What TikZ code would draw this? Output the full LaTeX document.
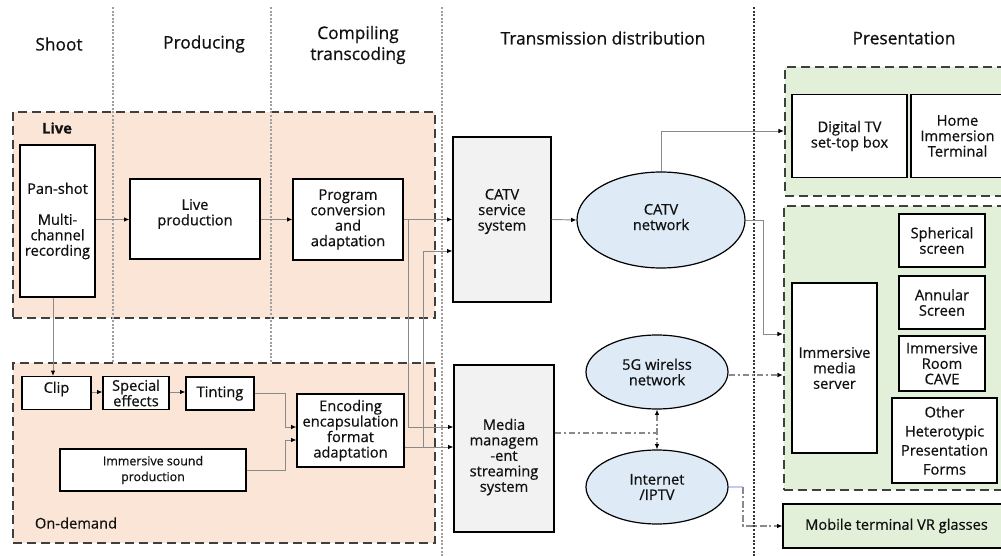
\documentclass[tikz,border=0pt]{standalone}
\usepackage{fontspec}
\setmainfont{Open Sans}[RawFeature={embolden=0.6}]
\usetikzlibrary{arrows.meta,shapes.geometric}
\definecolor{peach}{HTML}{FBE5D6}
\definecolor{lgreen}{HTML}{E2F0D9}
\definecolor{lblue}{HTML}{DEEBF7}
\definecolor{lgray}{HTML}{F2F2F2}
\definecolor{grpline}{HTML}{3F3F3F}
\definecolor{connc}{HTML}{8A8A8A}
\definecolor{txtc}{HTML}{111111}
\newcommand\boxfont{\fontsize{11}{11.6}\selectfont}
\newcommand\smallboxfont{\fontsize{9.3}{11.8}\selectfont}
\newcommand\headfont{\fontsize{13}{15.75}\selectfont}
\begin{document}
\begin{tikzpicture}[x=0.75pt,y=-0.75pt,
 wh/.style 2 args={minimum width=#1*0.75pt,minimum height=#2*0.75pt},
 box/.style={draw=black,line width=0.9pt,fill=white,inner sep=0pt,align=center,font=\boxfont,text=txtc},
 graybox/.style={box,fill=lgray},
 ell/.style={ellipse,draw=black,line width=0.9pt,fill=lblue,inner sep=0pt,align=center,font=\boxfont,text=txtc},
 grp/.style={draw=grpline,line width=1.8pt,dash pattern=on 7pt off 3.5pt,inner sep=0pt},
 head/.style={font=\headfont,align=center,inner sep=0pt,text=txtc},
 lbltxt/.style={font=\boxfont,align=center,inner sep=0pt,text=txtc},
 vdot/.style={draw=gray!75,line width=1pt,dash pattern=on 1.5pt off 1.2pt},
 conn/.style={draw=connc,line width=0.7pt,-{Latex[length=4pt,width=3.5pt,color=black]}},
 dd/.style={draw=connc,line width=1pt,dash pattern=on 5pt off 2pt on 1.5pt off 2pt},
 dda/.style={dd,-{Latex[length=4pt,width=3.5pt,color=black]}},
 ddb/.style={dd,{Latex[length=4pt,width=3.5pt,color=black]}-{Latex[length=4pt,width=3.5pt,color=black]}},
]
\useasboundingbox (0,0) rectangle (1001,556);
\clip (0,0) rectangle (1001,556);
\fill[white] (0,0) rectangle (1001,556);

% groups
\node[grp,fill=peach,wh={422}{206}] (glive) at (224,215) {};
\node[grp,fill=lgreen,wh={228}{129}] (pg1) at (899,131.5) {};
\node[grp,fill=lgreen,wh={228}{284}] (pg2) at (898,348) {};

% stage separators
\draw[vdot] (113,7) -- (113,363);
\draw[vdot] (271,7) -- (271,363);
\draw[vdot] (442,7) -- (442,556);
\draw[vdot,draw=gray!40!black] (754,7) -- (754,556);

\node[grp,fill=peach,wh={422}{180}] (gdem) at (224,453) {};

% headers
\node[head] (hshoot) at (59,44) {Shoot};
\node[head] (hprod) at (204,44) {Producing};
\node[head] (hcomp) at (358,45) {Compiling\\transcoding};
\node[head] (htrans) at (603,38) {Transmission distribution};
\node[head] (hpres) at (904,38) {Presentation};

% group labels
\node[lbltxt,font=\boxfont\bfseries] (llive) at (57,128) {Live};
\node[lbltxt] (ldem) at (76,523) {On-demand};

% live chain
\node[box,wh={75}{152}] (pan) at (57.5,221) {Pan-shot\\[11.6pt]Multi-\\channel\\recording};
\node[box,wh={130}{80},label={[lbltxt,yshift=3.8pt]center:Live\\production}] (live) at (195,219) {};
\node[box,wh={110}{81}] (prog) at (348,219.5) {Program\\conversion\\and\\adaptation};

% on-demand chain
\node[box,wh={69}{33},label={[lbltxt,yshift=3pt]center:Clip}] (clip) at (56.5,393) {};
\node[box,wh={66}{33}] (sfx) at (136,393) {Special\\effects};
\node[box,wh={68}{33}] (tint) at (220,393.5) {Tinting};
\node[box,wh={107}{73}] (enc) at (350.5,430.5) {Encoding\\encapsulation\\format\\adaptation};
\node[box,wh={186}{42},font=\smallboxfont] (sound) at (153,470) {Immersive sound\\production};

% transmission
\node[graybox,wh={98}{165},label={[lbltxt,yshift=6pt]center:CATV\\service\\system}] (catvs) at (502,219.5) {};
\node[graybox,wh={100}{167},label={[lbltxt,yshift=-6.4pt]center:Media\\managem\\-ent\\streaming\\system}] (media) at (504,448.5) {};
\node[ell,wh={168}{96},label={[lbltxt,yshift=2.2pt]center:CATV\\network}] (catvn) at (661,220) {};
\node[ell,wh={142}{74}] (g5) at (657,372) {5G wirelss\\network};
\node[ell,wh={142}{74}] (inet) at (657,487) {Internet\\/IPTV};

% presentation
\node[box,wh={115}{83}] (dtv) at (849.5,136) {Digital TV\\set-top box};
\node[box,wh={93}{83}] (hit) at (957.5,136) {Home\\Immersion\\Terminal};
\node[box,wh={86}{53}] (sph) at (942,240.5) {Spherical\\screen};
\node[box,wh={86}{53}] (ann) at (942,302.5) {Annular\\Screen};
\node[box,wh={86}{55}] (cave) at (942,363.5) {Immersive\\Room\\CAVE};
\node[box,wh={105}{85},font=\fontsize{11}{14.3}\selectfont] (other) at (944.5,440.5) {Other\\Heterotypic\\Presentation\\Forms};
\node[box,wh={85}{170}] (ims) at (834.5,368) {Immersive\\media\\server};
\node[box,wh={227}{44},fill=lgreen] (mobile) at (896.5,526) {Mobile terminal VR glasses};

% routing coordinates
\coordinate (y219) at (0,219.5);
\coordinate (y251) at (0,251);
\coordinate (y427) at (0,427);
\coordinate (y447) at (0,447);
\coordinate (y131) at (0,131);
\coordinate (y334) at (0,334);
\coordinate (y375) at (0,375);
\coordinate (y433) at (0,433);
\coordinate (y392) at (0,392);
\coordinate (y440) at (0,440);
\coordinate (x53) at (53,0);
\coordinate (x285) at (285,0);
\coordinate (x408) at (408,0);
\coordinate (x423) at (423,0);
\coordinate (x763) at (763,0);
\coordinate (x743) at (743,0);

% connectors
\draw[conn] (pan.east |- y219) -- (live.west |- y219);
\draw[conn] (live.east |- y219) -- (prog.west |- y219);
\draw[conn] (prog.east |- y219) -- (catvs.west |- y219);
\draw[conn] (prog.east |- y219) -| (x408 |- y427) -- (media.west |- y427);
\draw[conn] (enc.east |- y447) -- (media.west |- y447);
\draw[conn] (enc.east |- y447) -| (x423 |- y251) -- (catvs.west |- y251);
\draw[conn] (pan.south -| x53) -- (clip.north -| x53);
\draw[conn] (clip.east |- y392) -- (sfx.west |- y392);
\draw[conn] (sfx.east |- y392) -- (tint.west |- y392);
\draw[conn] (tint.east) -| (x285 |- y427) -- (enc.west |- y427);
\draw[conn] (sound.east) -| (x285 |- y440) -- (enc.west |- y440);
\draw[conn] (catvs.east) -- (catvn.west);
\draw[conn] (catvn.north) |- (pg1.west |- y131);
\draw[conn] (catvn.east) -| (x763 |- y334) -- (pg2.west |- y334);
\draw[dd] (media.east |- y433) -- (g5.south |- y433);
\draw[ddb] (g5.south) -- (inet.north);
\draw[dda] (g5.east |- y375) -- (pg2.west |- y375);
\draw[draw=lblue!70!blue!60,line width=1pt] (inet.east) -- (x743 |- inet.east);
\draw[dda] (x743 |- inet.east) |- (mobile.west);
\end{tikzpicture}
\end{document}
